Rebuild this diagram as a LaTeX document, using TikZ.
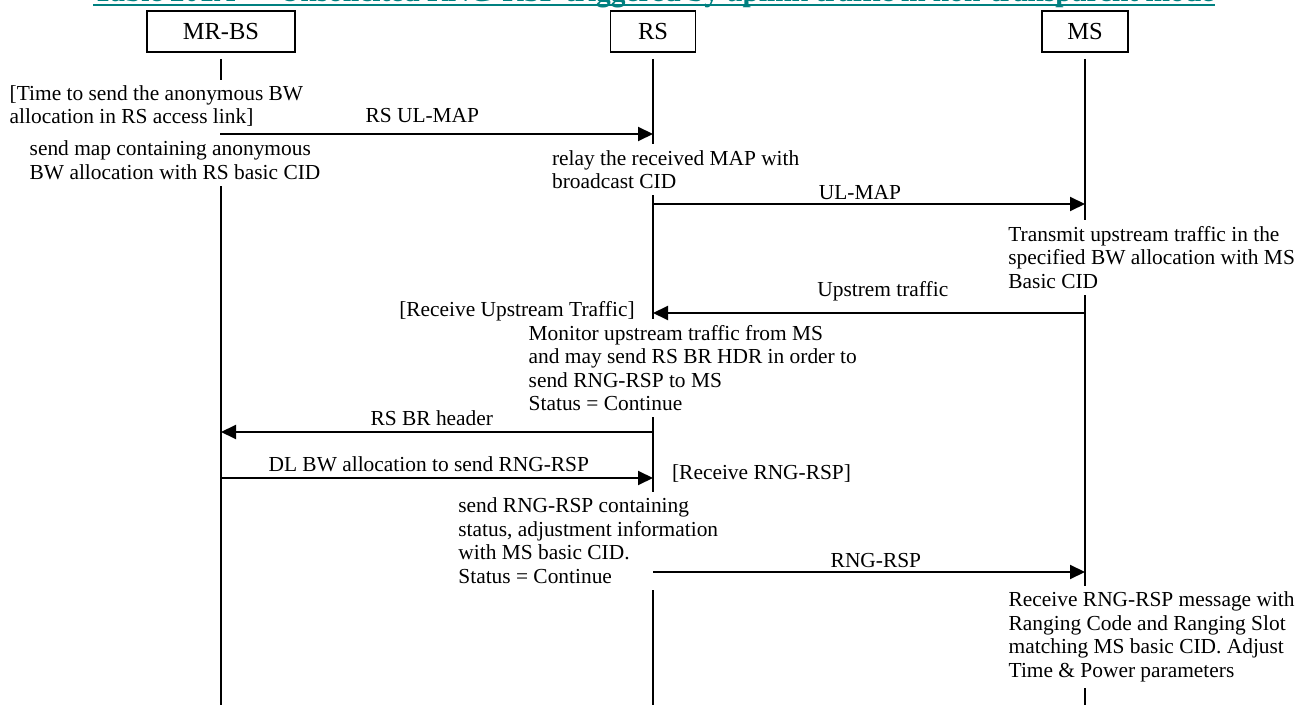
\documentclass[tikz,border=0pt]{standalone}
\usepackage{fontspec}
\setmainfont{Liberation Serif}
\usetikzlibrary{arrows.meta}
\definecolor{TitleTeal}{HTML}{008080}
\newcommand\notefont{\fontsize{10.7pt}{11.75pt}\selectfont}
\tikzset{
  entity/.style={draw, line width=0.9pt, minimum height=20.5pt, inner sep=0pt, font=\fontsize{12.25pt}{14pt}\selectfont},
  lifeline/.style={line width=0.8pt},
  note/.style={anchor=base west, align=left, fill=white, inner xsep=2pt, inner ysep=3pt, font=\notefont},
  msg/.style={line width=1pt, -{Triangle[length=7.5pt,width=7pt]}},
  msglabel/.style={anchor=base, inner sep=0pt, font=\notefont}
}

\begin{document}
\begin{tikzpicture}[x=0.5pt,y=-0.5pt]
  \useasboundingbox (0,0) rectangle (1307,705);
  \clip (0,0) rectangle (1307,705);

  % caption, cut by the page edge
  \node[anchor=base west, inner sep=0pt, text=TitleTeal, font=\fontsize{14.7pt}{16pt}\selectfont\bfseries] (title) at (93,2) {Table 201A — Unsolicited RNG-RSP triggered by uplink traffic in non-transparent mode};
  \draw[TitleTeal, line width=1pt] ([yshift=-1.5pt]title.base west) -- ([yshift=-1.5pt]title.base east);

  % entities and lifelines
  \node[entity, minimum width=73.85pt] (mrbs) at (221,31.5) {MR-BS};
  \node[entity, minimum width=42.5pt] (rs) at (653,31.5) {RS};
  \node[entity, minimum width=43pt] (ms) at (1085,31.5) {MS};
  \foreach \n in {mrbs,rs,ms}
    \draw[lifeline] (\n |- 0,59) -- (\n |- 0,705);

  % notes, placed at the baseline of their last line (white boxes break the lifelines)
  \node[note] (n-time) at (5.3,124) {[Time to send the anonymous BW\\allocation in RS access link]};
  \node[note] (n-map) at (25.3,179.3) {send map containing anonymous\\BW allocation with RS basic CID};
  \node[note] (n-relay) at (547.7,188.7) {relay the received MAP with\\broadcast CID};
  \node[note] (n-tx) at (1004,288.3) {Transmit upstream traffic in the\\specified BW allocation with MS\\Basic CID};
  \node[note, anchor=base east] (n-rxup) at (639,316.7) {[Receive Upstream Traffic]};
  \node[note] (n-mon) at (524.3,410.7) {Monitor upstream traffic from MS\\and may send RS BR HDR in order to\\send RNG-RSP to MS\\Status = Continue};
  \node[note] (n-rxrng) at (667.7,480) {[Receive RNG-RSP]};
  \node[note] (n-send) at (454,583.3) {send RNG-RSP containing\\status, adjustment information\\with MS basic CID.\\Status = Continue};
  \node[note] (n-adj) at (1004.3,677.3) {Receive RNG-RSP message with\\Ranging Code and Ranging Slot\\matching MS basic CID. Adjust\\Time \& Power parameters};

  % messages
  \draw[msg] (mrbs |- 0,134) -- (rs |- 0,134) node[msglabel, pos=.466, yshift=5.5pt] {RS UL-MAP};
  \draw[msg] (rs |- 0,204) -- (ms |- 0,204) node[msglabel, pos=.479, yshift=2.15pt] {UL-MAP};
  \draw[msg] (ms |- 0,313) -- (rs |- 0,313) node[msglabel, pos=.468, yshift=8.15pt] {Upstrem traffic};
  \draw[msg] (rs |- 0,432) -- (mrbs |- 0,432) node[msglabel, pos=.512, yshift=3.35pt] {RS BR header};
  \draw[msg] (mrbs |- 0,478) -- (rs |- 0,478) node[msglabel, pos=.481, yshift=3.15pt] {DL BW allocation to send RNG-RSP};
  \draw[msg] (rs |- 0,572) -- (ms |- 0,572) node[msglabel, pos=.516, yshift=2.15pt] {RNG-RSP};
\end{tikzpicture}
\end{document}
